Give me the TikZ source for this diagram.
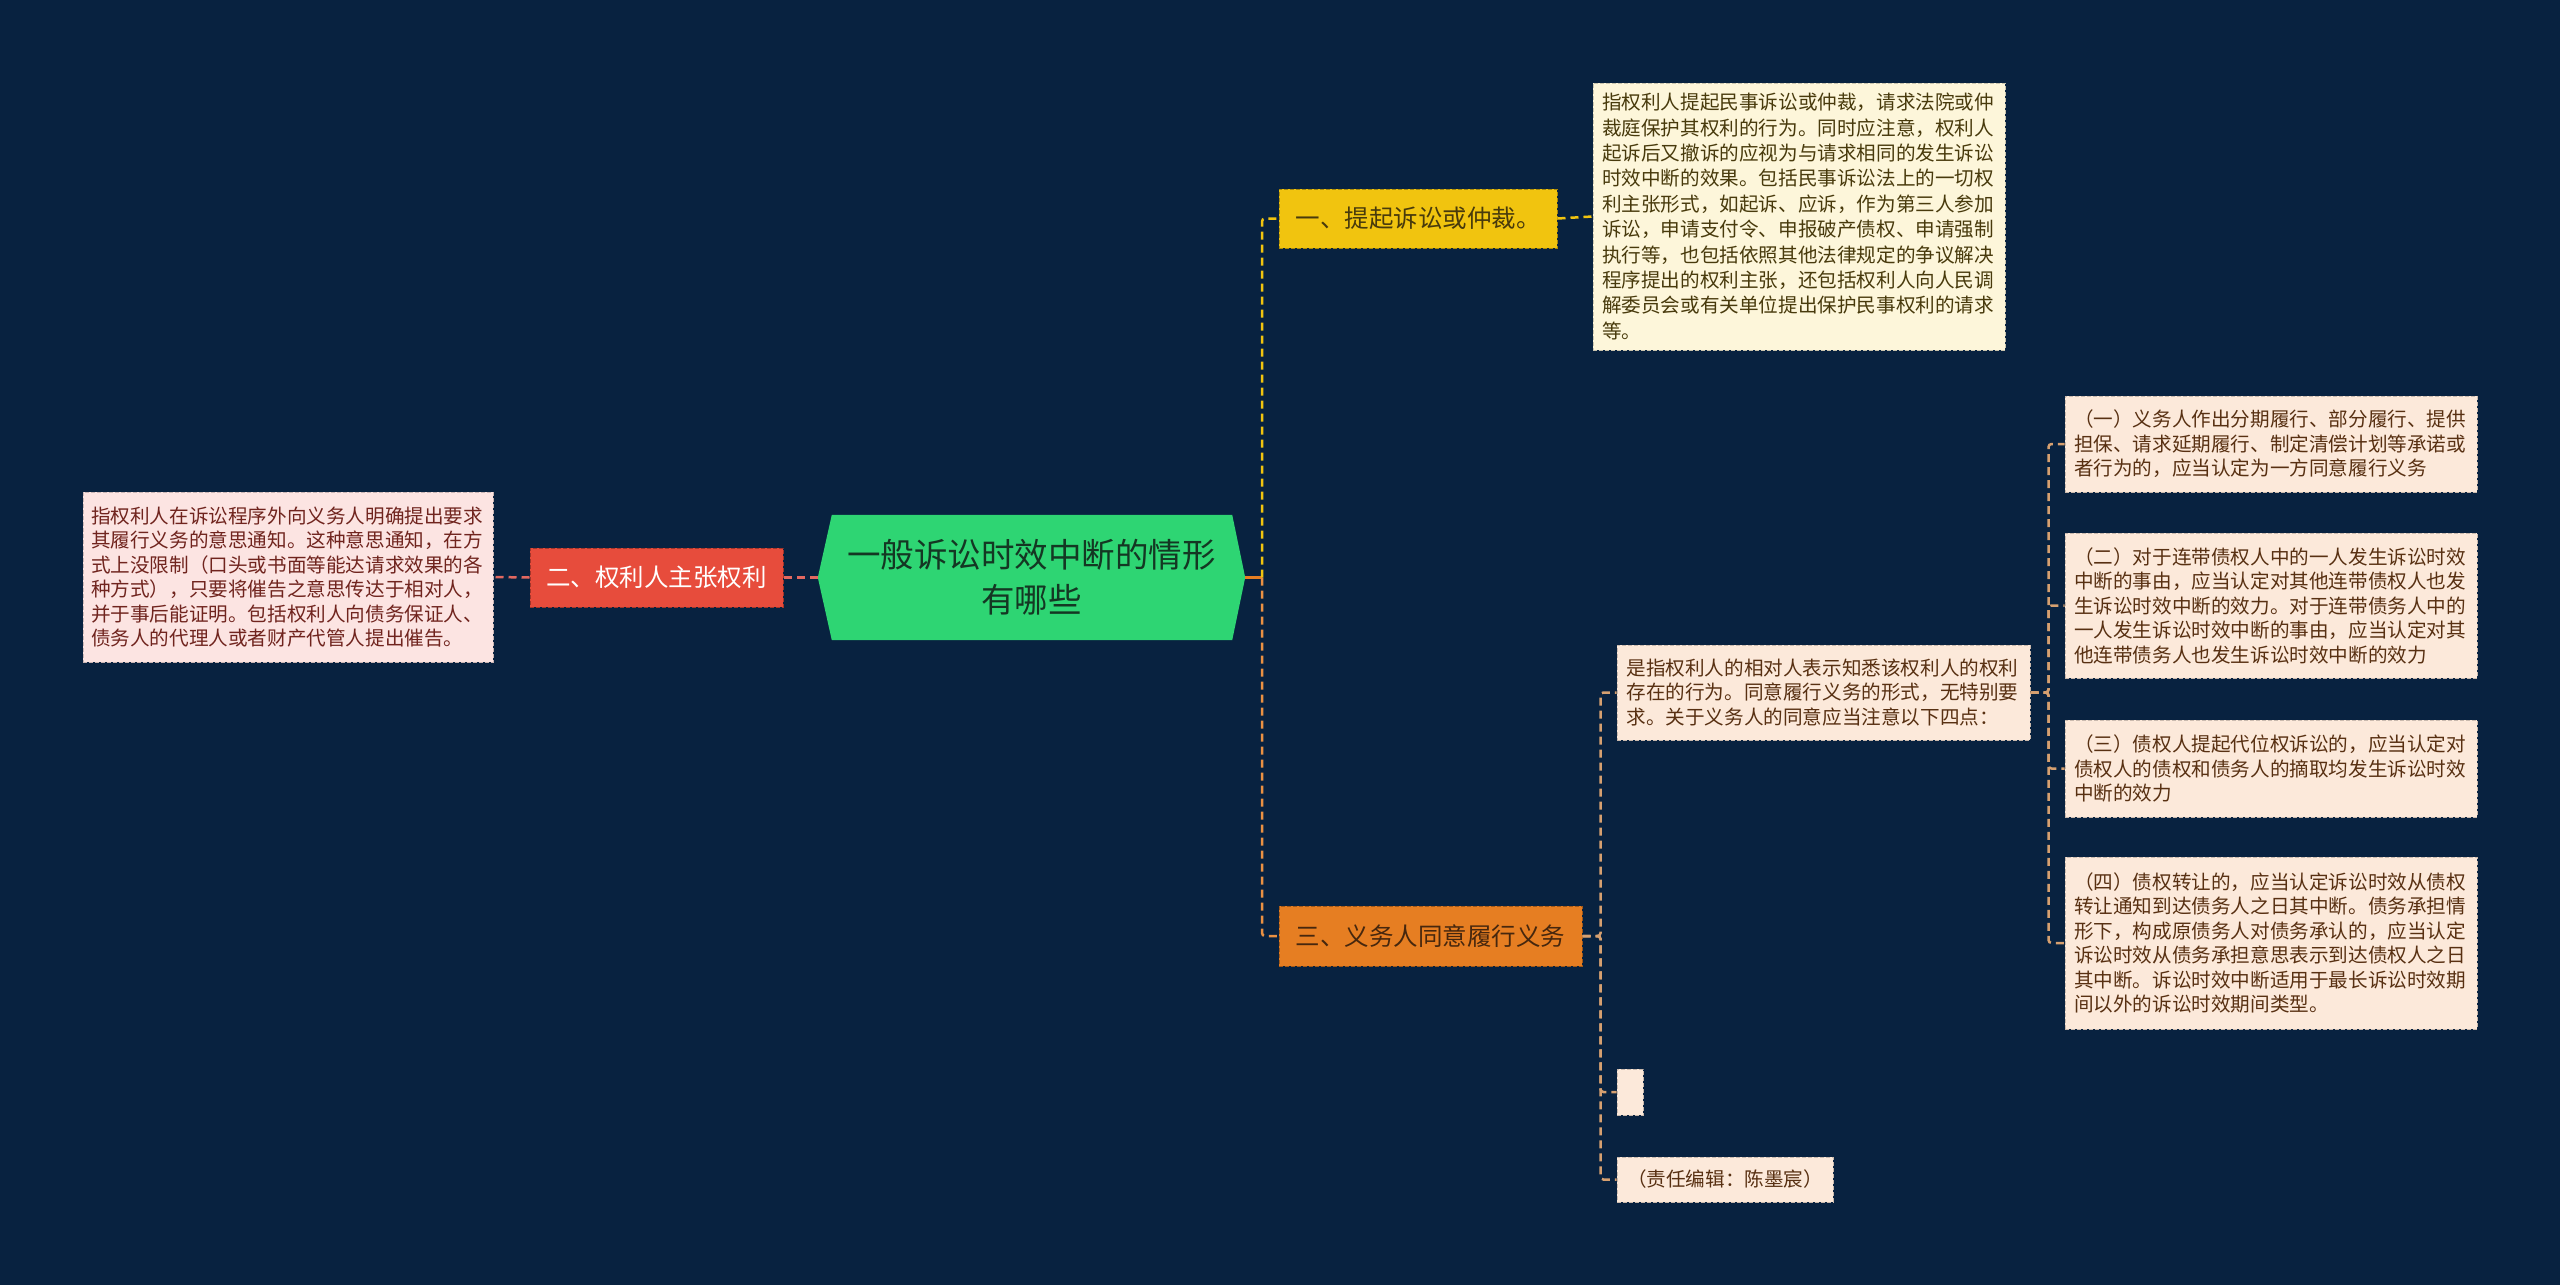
\documentclass[tikz,border=0pt]{standalone}
\usepackage{fontspec}
\setmainfont{Noto Sans CJK SC}
\usetikzlibrary{backgrounds}
\definecolor{navybg}{RGB}{8,34,64}
\definecolor{rootgreen}{RGB}{46,213,115}
\definecolor{roottext}{RGB}{20,55,35}
\definecolor{redtopic}{RGB}{231,76,60}
\definecolor{redline}{RGB}{226,104,96}
\definecolor{yellowtopic}{RGB}{241,196,15}
\definecolor{orangetopic}{RGB}{230,126,34}
\definecolor{tanline}{RGB}{214,160,112}
\definecolor{creamleaf}{RGB}{253,246,218}
\definecolor{creamtext}{RGB}{72,58,12}
\definecolor{pinkleaf}{RGB}{252,228,226}
\definecolor{pinktext}{RGB}{112,36,30}
\definecolor{peachleaf}{RGB}{252,233,218}
\definecolor{peachtext}{RGB}{88,48,18}

\begin{document}
\begin{tikzpicture}[x=1pt,y=-1pt,
  rootbox/.style={inner sep=0pt, minimum width=427pt, minimum height=125pt,
              text width=400pt, align=center, text=roottext,
              font=\fontsize{33.5}{45}\selectfont},
  topic/.style={draw=#1!70!black, fill=#1, dash pattern=on 4pt off 2pt,
              line width=1pt, inner sep=0pt, minimum height=59pt, align=center,
              font=\fontsize{24.5}{30}\selectfont},
  leaf/.style={draw=#1!80!black, fill=#1, dash pattern=on 4pt off 2pt,
              line width=1pt, inner sep=0pt, text width=394pt, align=left,
              font=\fontsize{19.6}{24.5}\selectfont},
  link/.style={dash pattern=on 8pt off 5pt, line width=2.5pt},
]
\begin{pgfonlayer}{background}
\fill[navybg] (0,0) rectangle (2560,1285);
\end{pgfonlayer}
\useasboundingbox (0,0) rectangle (2560,1285);

% centre
\node[rootbox] (root) at (1031.5,577.5) {一般诉讼时效中断的情形\\有哪些};
\begin{pgfonlayer}{background}
\fill[rootgreen] (root.west) -- ([xshift=14pt]root.north west)
  -- ([xshift=-13pt]root.north east) -- (root.east)
  -- ([xshift=-13pt]root.south east) -- ([xshift=14pt]root.south west) -- cycle;
\end{pgfonlayer}

% left branch
\node[topic=redtopic, text=white, minimum width=253pt] (rights) at (656.5,577.5) {二、权利人主张权利};
\node[leaf=pinkleaf, text=pinktext, minimum width=410pt, minimum height=170pt] (rightsnote) at (288,577) {指权利人在诉讼程序外向义务人明确提出要求\\
其履行义务的意思通知。这种意思通知，在方\\
式上没限制（口头或书面等能达请求效果的各\\
种方式），只要将催告之意思传达于相对人，\\
并于事后能证明。包括权利人向债务保证人、\\
债务人的代理人或者财产代管人提出催告。};

% right branch
\node[topic=yellowtopic, text=creamtext, minimum width=278pt] (suit) at (1418,218.5) {一、提起诉讼或仲裁。};
\node[leaf=creamleaf, text=creamtext, minimum width=412pt, minimum height=267pt,
      font=\fontsize{19.6}{25.4}\selectfont] (suitnote) at (1799,216.5) {指权利人提起民事诉讼或仲裁，请求法院或仲\\
裁庭保护其权利的行为。同时应注意，权利人\\
起诉后又撤诉的应视为与请求相同的发生诉讼\\
时效中断的效果。包括民事诉讼法上的一切权\\
利主张形式，如起诉、应诉，作为第三人参加\\
诉讼，申请支付令、申报破产债权、申请强制\\
执行等，也包括依照其他法律规定的争议解决\\
程序提出的权利主张，还包括权利人向人民调\\
解委员会或有关单位提出保护民事权利的请求\\
等。};

\node[topic=orangetopic, text=peachtext!80!black, minimum width=303pt, minimum height=60pt] (agree) at (1430.5,936) {三、义务人同意履行义务};
\node[leaf=peachleaf, text=peachtext, minimum width=413pt, minimum height=95pt] (agreenote) at (1823.5,692.5) {是指权利人的相对人表示知悉该权利人的权利\\
存在的行为。同意履行义务的形式，无特别要\\
求。关于义务人的同意应当注意以下四点：};
\node[leaf=peachleaf, text width=26pt, minimum height=46pt] (blank) at (1630,1092) {};
\node[leaf=peachleaf, text=peachtext, text width=200pt, align=center, minimum width=216pt, minimum height=45pt] (editor) at (1725,1179.5) {（责任编辑：陈墨宸）};

\node[leaf=peachleaf, text=peachtext, minimum width=412pt, minimum height=96pt] (pt1) at (2271,444) {（一）义务人作出分期履行、部分履行、提供\\
担保、请求延期履行、制定清偿计划等承诺或\\
者行为的，应当认定为一方同意履行义务};
\node[leaf=peachleaf, text=peachtext, minimum width=412pt, minimum height=145pt] (pt2) at (2271,605.5) {（二）对于连带债权人中的一人发生诉讼时效\\
中断的事由，应当认定对其他连带债权人也发\\
生诉讼时效中断的效力。对于连带债务人中的\\
一人发生诉讼时效中断的事由，应当认定对其\\
他连带债务人也发生诉讼时效中断的效力};
\node[leaf=peachleaf, text=peachtext, minimum width=412pt, minimum height=97pt] (pt3) at (2271,768.5) {（三）债权人提起代位权诉讼的，应当认定对\\
债权人的债权和债务人的摘取均发生诉讼时效\\
中断的效力};
\node[leaf=peachleaf, text=peachtext, minimum width=412pt, minimum height=172pt] (pt4) at (2271,943) {（四）债权转让的，应当认定诉讼时效从债权\\
转让通知到达债务人之日其中断。债务承担情\\
形下，构成原债务人对债务承认的，应当认定\\
诉讼时效从债务承担意思表示到达债权人之日\\
其中断。诉讼时效中断适用于最长诉讼时效期\\
间以外的诉讼时效期间类型。};

% connectors
\draw[link, redline] (root.west) -- (rights.east);
\draw[link, redline] (rights.west) -- (rightsnote.east);
\coordinate (fork) at (1262,577.5);
\draw[orangetopic, line width=2.5pt] (root.east) -- (fork);
\draw[link, yellowtopic, rounded corners=3pt] (fork) |- (suit.west);
\draw[link, orangetopic!85!white, rounded corners=3pt] (fork) |- (agree.west);
\draw[link, yellowtopic] (suit.east) -- (suitnote.west);
\foreach \n in {agreenote,blank,editor}
  \draw[link, tanline, rounded corners=3pt] (agree.east) -- ++(18,0) |- (\n.west);
\foreach \n in {pt1,pt2,pt3,pt4}
  \draw[link, tanline, rounded corners=3pt] (agreenote.east) -- ++(18,0) |- (\n.west);
\end{tikzpicture}
\end{document}
